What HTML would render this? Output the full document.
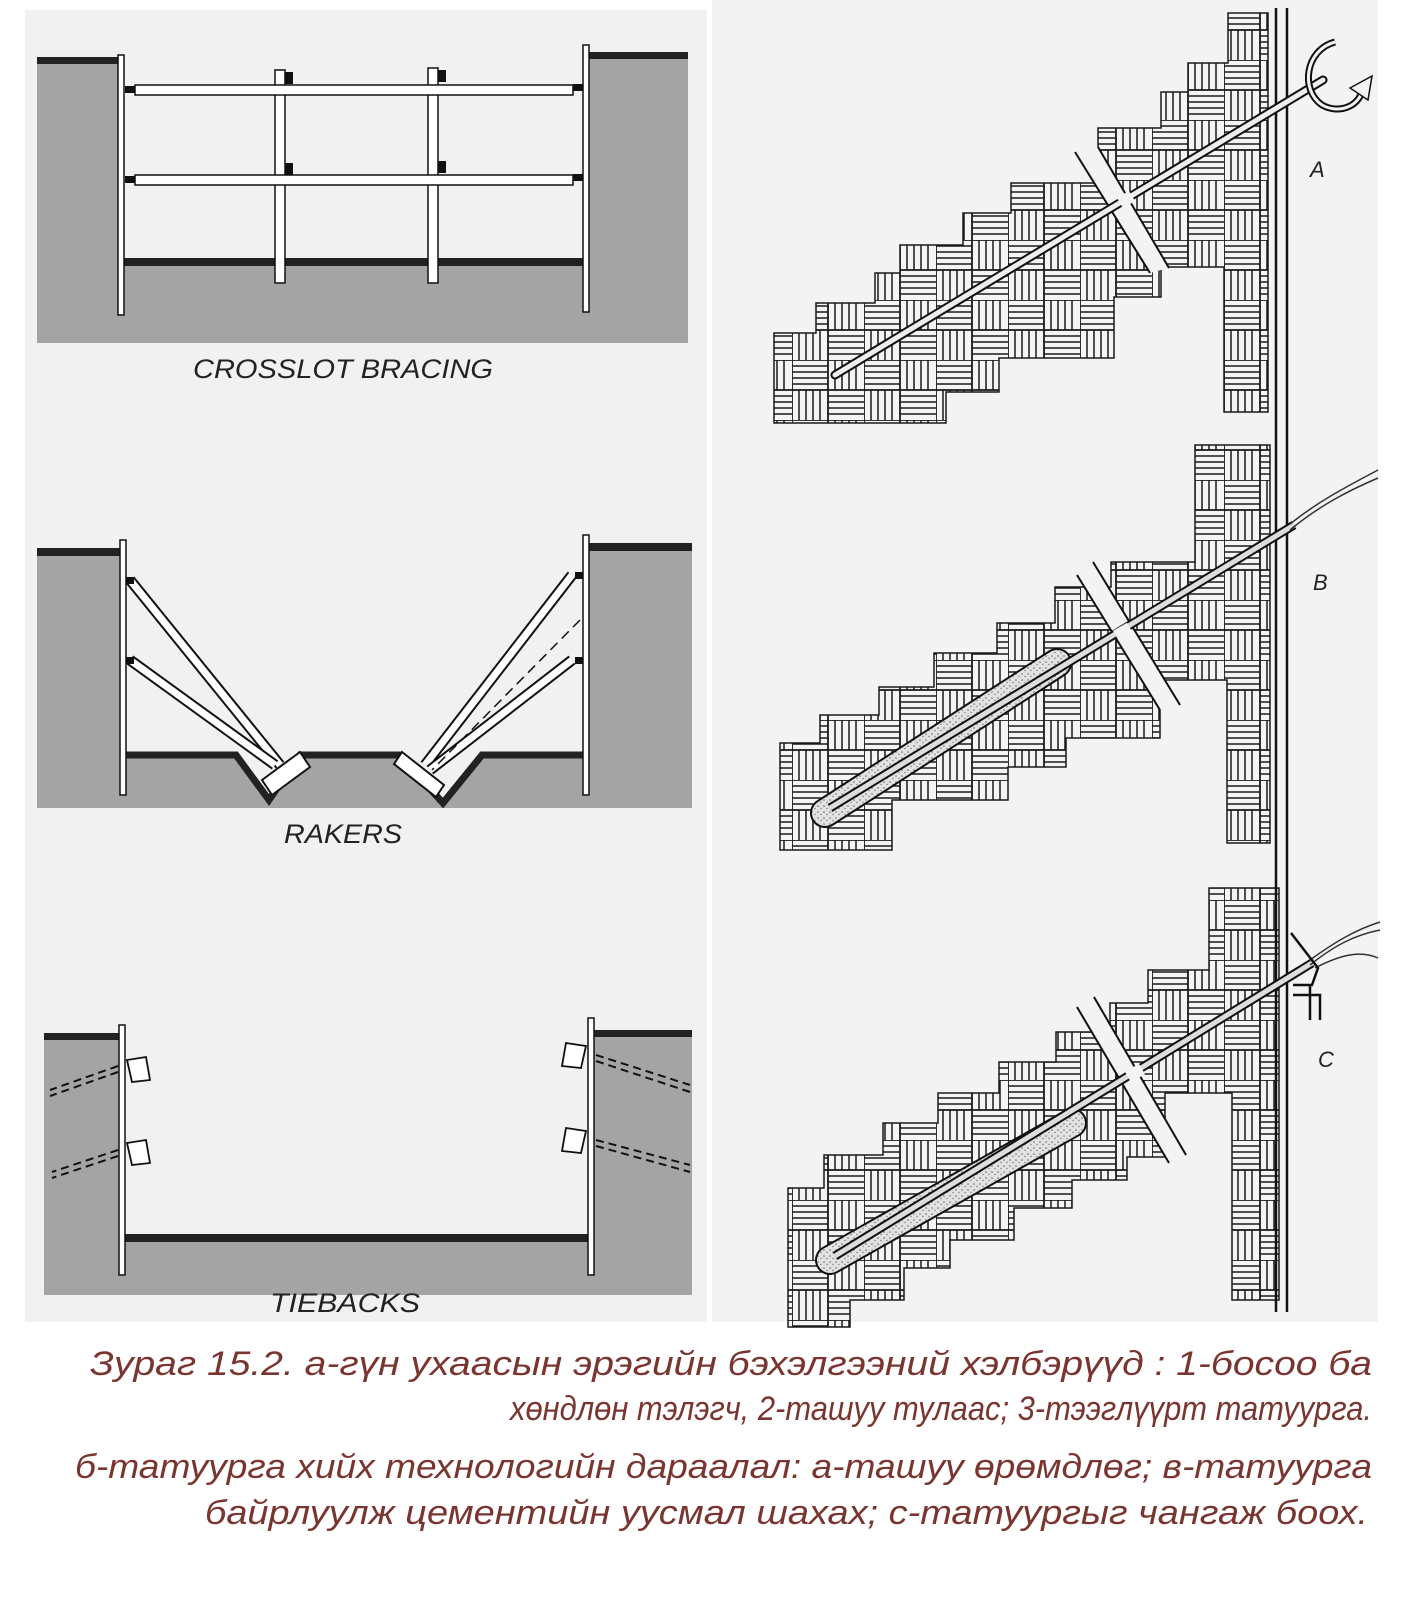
<!DOCTYPE html>
<html><head><meta charset="utf-8"><style>
html,body{margin:0;padding:0;background:#fff}
svg{display:block}
</style></head><body>
<svg width="1428" height="1599" viewBox="0 0 1428 1599" xmlns="http://www.w3.org/2000/svg">
<defs>
<pattern id="weave" width="72" height="60" patternUnits="userSpaceOnUse">
<rect width="72" height="60" fill="#f4f4f4"/>
<g stroke="#1a1a1a" stroke-width="1.5">
<path d="M0 6H36M0 12H36M0 18H36M0 24H36"/>
<path d="M43 0V30M50 0V30M57 0V30M64 0V30"/>
<path d="M7 30V60M14 30V60M21 30V60M28 30V60"/>
<path d="M36 36H72M36 42H72M36 48H72M36 54H72"/>
<path d="M0 0H72M0 30H72M0 0V60M36 0V60" stroke-width="1.8"/>
</g>
</pattern>
<pattern id="stip" width="6" height="6" patternUnits="userSpaceOnUse">
<rect width="6" height="6" fill="#e2e2e2"/><circle cx="2" cy="2" r="0.8" fill="#666"/><circle cx="5" cy="4.5" r="0.7" fill="#777"/>
</pattern>
</defs>

<rect x="25" y="10" width="682" height="1312" fill="#f1f1f1"/>
<rect x="712" y="0" width="666" height="1322" fill="#f3f3f3"/>

<!-- CROSSLOT -->
<g>
<rect x="37" y="57" width="85" height="286" fill="#a4a4a4"/>
<rect x="585" y="52" width="103" height="291" fill="#a4a4a4"/>
<rect x="122" y="258" width="463" height="85" fill="#a4a4a4"/>
<rect x="37" y="57" width="85" height="7" fill="#222"/>
<rect x="585" y="52" width="103" height="7" fill="#222"/>
<rect x="122" y="258" width="463" height="8" fill="#222"/>
<rect x="118" y="55" width="6" height="260" fill="#fff" stroke="#111" stroke-width="1.5"/>
<rect x="583" y="45" width="6" height="267" fill="#fff" stroke="#111" stroke-width="1.5"/>
<rect x="275" y="70" width="10" height="213" fill="#fff" stroke="#111" stroke-width="1.5"/>
<rect x="428" y="68" width="10" height="215" fill="#fff" stroke="#111" stroke-width="1.5"/>
<rect x="135" y="85" width="438" height="10" fill="#fff" stroke="#111" stroke-width="1.5"/>
<rect x="135" y="175" width="438" height="10" fill="#fff" stroke="#111" stroke-width="1.5"/>
<g fill="#111"><rect x="125" y="86" width="10" height="7"/><rect x="573" y="84" width="10" height="7"/><rect x="125" y="176" width="10" height="7"/><rect x="573" y="174" width="10" height="7"/>
<rect x="285" y="72" width="8" height="12"/><rect x="438" y="70" width="8" height="12"/><rect x="285" y="163" width="8" height="12"/><rect x="438" y="161" width="8" height="12"/></g>
<text x="343" y="378" text-anchor="middle" font-family="Liberation Sans, sans-serif" font-style="italic" font-size="27" fill="#222" textLength="300" lengthAdjust="spacingAndGlyphs">CROSSLOT BRACING</text>
</g>

<!-- RAKERS -->
<g>
<rect x="37" y="550" width="86" height="258" fill="#a4a4a4"/>
<rect x="586" y="545" width="106" height="263" fill="#a4a4a4"/>
<polygon points="123,755 236,755 269,800 300,755 399,755 443,803 482,755 586,755 586,808 123,808" fill="#a4a4a4"/>
<rect x="37" y="548" width="86" height="8" fill="#222"/>
<rect x="586" y="543" width="106" height="8" fill="#222"/>
<polyline points="123,755 236,755 269,800 300,755 399,755 443,803 482,755 586,755" fill="none" stroke="#222" stroke-width="7"/>
<rect x="120" y="540" width="6" height="255" fill="#fff" stroke="#111" stroke-width="1.5"/>
<rect x="583" y="535" width="6" height="260" fill="#fff" stroke="#111" stroke-width="1.5"/>
<g stroke-linecap="butt">
<line x1="130" y1="580" x2="280" y2="765" stroke="#111" stroke-width="11"/><line x1="130" y1="580" x2="280" y2="765" stroke="#fff" stroke-width="7"/>
<line x1="130" y1="660" x2="275" y2="765" stroke="#111" stroke-width="11"/><line x1="130" y1="660" x2="275" y2="765" stroke="#fff" stroke-width="7"/>
<line x1="572" y1="575" x2="425" y2="765" stroke="#111" stroke-width="11"/><line x1="572" y1="575" x2="425" y2="765" stroke="#fff" stroke-width="7"/>
<line x1="572" y1="660" x2="430" y2="770" stroke="#111" stroke-width="11"/><line x1="572" y1="660" x2="430" y2="770" stroke="#fff" stroke-width="7"/>
<line x1="580" y1="620" x2="432" y2="770" stroke="#111" stroke-width="1.5" stroke-dasharray="10,6"/>
</g>
<polygon points="262,780 300,752 310,767 272,795" fill="#fff" stroke="#111" stroke-width="2"/>
<polygon points="402,752 444,785 436,797 394,764" fill="#fff" stroke="#111" stroke-width="2"/>
<g fill="#111"><rect x="126" y="577" width="8" height="7"/><rect x="126" y="657" width="8" height="7"/><rect x="575" y="572" width="8" height="7"/><rect x="575" y="657" width="8" height="7"/></g>
<text x="343" y="843" text-anchor="middle" font-family="Liberation Sans, sans-serif" font-style="italic" font-size="27" fill="#222" textLength="118" lengthAdjust="spacingAndGlyphs">RAKERS</text>
</g>

<!-- TIEBACKS -->
<g>
<rect x="44" y="1033" width="79" height="262" fill="#a4a4a4"/>
<rect x="591" y="1030" width="101" height="265" fill="#a4a4a4"/>
<rect x="123" y="1234" width="468" height="61" fill="#a4a4a4"/>
<rect x="44" y="1033" width="79" height="7" fill="#222"/>
<rect x="591" y="1030" width="101" height="7" fill="#222"/>
<rect x="123" y="1234" width="468" height="8" fill="#222"/>
<rect x="119" y="1025" width="6" height="250" fill="#fff" stroke="#111" stroke-width="1.5"/>
<rect x="588" y="1018" width="6" height="257" fill="#fff" stroke="#111" stroke-width="1.5"/>
<g stroke="#111" stroke-width="2" stroke-dasharray="8,5" fill="none">
<line x1="118" y1="1066" x2="50" y2="1090"/><line x1="118" y1="1072" x2="50" y2="1096"/>
<line x1="118" y1="1150" x2="52" y2="1172"/><line x1="118" y1="1156" x2="52" y2="1178"/>
<line x1="596" y1="1055" x2="690" y2="1085"/><line x1="596" y1="1061" x2="690" y2="1092"/>
<line x1="596" y1="1140" x2="690" y2="1165"/><line x1="596" y1="1146" x2="690" y2="1172"/>
</g>
<g fill="#fff" stroke="#111" stroke-width="1.8">
<polygon points="127,1060 146,1057 150,1080 132,1082"/><polygon points="127,1143 146,1140 150,1163 132,1165"/>
<polygon points="586,1046 566,1043 562,1066 581,1068"/><polygon points="586,1131 566,1128 562,1151 581,1153"/>
</g>
<text x="345" y="1312" text-anchor="middle" font-family="Liberation Sans, sans-serif" font-style="italic" font-size="27" fill="#222" textLength="150" lengthAdjust="spacingAndGlyphs">TIEBACKS</text>
</g>

<polygon fill="url(#weave)" stroke="#1a1a1a" stroke-width="1.5" points="774,423 774,333 816,333 816,303 875,303 875,273 900,273 900,245 963,245 963,213 1011,213 1011,183 1098,183 1098,128 1161,128 1161,92 1188,92 1188,63 1228,63 1228,13 1268,13 1268,412 1224,412 1224,267 1161,267 1161,297 1114,297 1114,358 999,358 999,392 946,392 946,423"/>
<polygon fill="url(#weave)" stroke="#1a1a1a" stroke-width="1.5" points="780,850 780,743 820,743 820,715 879,715 879,687 934,687 934,653 997,653 997,623 1055,623 1055,587 1111,587 1111,562 1195,562 1195,445 1270,445 1270,843 1227,843 1227,680 1160,680 1160,738 1066,738 1066,767 1008,767 1008,800 892,800 892,850"/>
<polygon fill="url(#weave)" stroke="#1a1a1a" stroke-width="1.5" points="788,1327 788,1188 824,1188 824,1155 883,1155 883,1123 938,1123 938,1093 999,1093 999,1062 1056,1062 1056,1032 1110,1032 1110,1003 1148,1003 1148,970 1209,970 1209,888 1279,888 1279,1300 1232,1300 1232,1093 1165,1093 1165,1157 1127,1157 1127,1180 1072,1180 1072,1208 1014,1208 1014,1240 950,1240 950,1268 904,1268 904,1300 850,1300 850,1327"/>

<line x1="1276" y1="8" x2="1276" y2="1312" stroke="#111" stroke-width="2.5"/>
<line x1="1287" y1="8" x2="1287" y2="1312" stroke="#111" stroke-width="2.5"/>

<g>
<polygon points="1075,152 1098,147 1169,268 1150,273" fill="#f3f3f3"/>
<line x1="1075" y1="152" x2="1150" y2="273" stroke="#111" stroke-width="2"/><line x1="1098" y1="147" x2="1169" y2="268" stroke="#111" stroke-width="2"/>
<polygon points="1077,575 1093,562 1180,705 1160,710" fill="#f3f3f3"/>
<line x1="1077" y1="575" x2="1160" y2="710" stroke="#111" stroke-width="2"/><line x1="1093" y1="562" x2="1180" y2="705" stroke="#111" stroke-width="2"/>
<polygon points="1077,1007 1094,997 1186,1155 1169,1163" fill="#f3f3f3"/>
<line x1="1077" y1="1007" x2="1169" y2="1163" stroke="#111" stroke-width="2"/><line x1="1094" y1="997" x2="1186" y2="1155" stroke="#111" stroke-width="2"/>
</g>

<line x1="835" y1="375" x2="1323" y2="80" stroke="#111" stroke-width="9" stroke-linecap="round"/>
<line x1="835" y1="375" x2="1323" y2="80" stroke="#eee" stroke-width="5" stroke-linecap="round"/>
<line x1="1120" y1="203" x2="1132" y2="196" stroke="#f3f3f3" stroke-width="12"/>
<path d="M1335 42 C1305 50 1300 90 1322 105 C1340 115 1360 105 1362 90" fill="none" stroke="#111" stroke-width="7"/>
<path d="M1335 42 C1305 50 1300 90 1322 105 C1340 115 1360 105 1362 90" fill="none" stroke="#f3f3f3" stroke-width="3"/>
<polygon points="1350,88 1372,76 1368,100" fill="#f3f3f3" stroke="#111" stroke-width="1.5"/>
<text x="1310" y="177" font-family="Liberation Sans, sans-serif" font-style="italic" font-size="22" fill="#222">A</text>

<line x1="825" y1="813" x2="1057" y2="663" stroke="#111" stroke-width="30" stroke-linecap="round"/>
<line x1="825" y1="813" x2="1057" y2="663" stroke="url(#stip)" stroke-width="26" stroke-linecap="round"/>
<line x1="830" y1="808" x2="1294" y2="525" stroke="#111" stroke-width="9"/>
<line x1="830" y1="808" x2="1294" y2="525" stroke="#ddd" stroke-width="5"/>
<line x1="1116" y1="636" x2="1130" y2="628" stroke="#f3f3f3" stroke-width="12"/>
<path d="M1290 530 C1320 505 1350 490 1378 478 M1290 524 C1320 500 1350 485 1378 470" fill="none" stroke="#333" stroke-width="1.5"/>
<text x="1313" y="590" font-family="Liberation Sans, sans-serif" font-style="italic" font-size="22" fill="#222">B</text>

<line x1="830" y1="1260" x2="1072" y2="1123" stroke="#111" stroke-width="30" stroke-linecap="round"/>
<line x1="830" y1="1260" x2="1072" y2="1123" stroke="url(#stip)" stroke-width="26" stroke-linecap="round"/>
<line x1="835" y1="1256" x2="1312" y2="963" stroke="#111" stroke-width="9"/>
<line x1="835" y1="1256" x2="1312" y2="963" stroke="#ddd" stroke-width="5"/>
<line x1="1128" y1="1077" x2="1142" y2="1069" stroke="#f3f3f3" stroke-width="12"/>
<path d="M1310 965 C1335 945 1355 935 1380 930 M1310 960 C1335 942 1355 930 1380 922 M1315 968 C1340 955 1360 950 1378 958" fill="none" stroke="#333" stroke-width="1.5"/>
<path d="M1291 933 L1318 968 L1312 985 L1293 985 M1293 995 H1320 V1020 M1310 985 V1020" fill="none" stroke="#111" stroke-width="2.5"/>
<text x="1318" y="1067" font-family="Liberation Sans, sans-serif" font-style="italic" font-size="22" fill="#222">C</text>

<g font-family="Liberation Sans, sans-serif" font-style="italic" font-size="34" fill="#7a3530">
<text x="90" y="1375" textLength="1282" lengthAdjust="spacingAndGlyphs">Зураг 15.2. а-гүн ухаасын эрэгийн бэхэлгээний хэлбэрүүд : 1-босоо ба</text>
<text x="510" y="1420" textLength="862" lengthAdjust="spacingAndGlyphs">хөндлөн тэлэгч, 2-ташуу тулаас; 3-тээглүүрт татуурга.</text>
<text x="75" y="1478" textLength="1297" lengthAdjust="spacingAndGlyphs">б-татуурга хийх технологийн дараалал: а-ташуу өрөмдлөг; в-татуурга</text>
<text x="205" y="1524" textLength="1163" lengthAdjust="spacingAndGlyphs">байрлуулж цементийн уусмал шахах; с-татуургыг чангаж боох.</text>
</g>
</svg>
</body></html>
